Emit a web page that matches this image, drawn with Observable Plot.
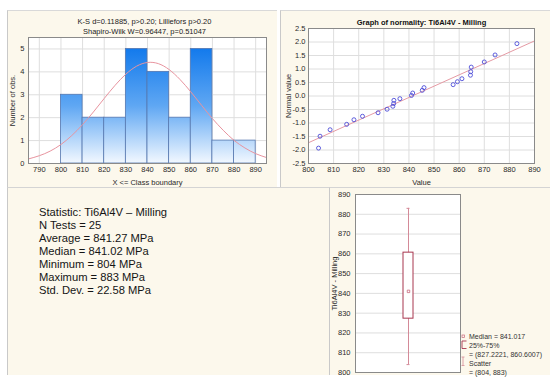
<!DOCTYPE html>
<html><head><meta charset="utf-8">
<script src="https://cdn.jsdelivr.net/npm/d3@7"></script>
<script src="https://cdn.jsdelivr.net/npm/@observablehq/plot@0.6"></script>
<style>
html,body{margin:0;padding:0;}
body{background:#fff;width:550px;height:386px;position:relative;overflow:hidden;font-family:"Liberation Sans",Arial,sans-serif;}
.panel{position:absolute;background:#fcf8ec;box-sizing:border-box;}
.abs{position:absolute;}
.abs svg{display:block;}
</style></head><body>
<div class="panel" style="left:7px;top:10px;width:270px;height:177px;border-left:1px solid #c9c9c9;border-top:1px solid #d9d9d9;"></div>
<div class="panel" style="left:280px;top:10px;width:270px;height:177px;border-left:1px solid #c9c9c9;border-top:1px solid #d9d9d9;"></div>
<div class="panel" style="left:7px;top:187px;width:322px;height:188px;border-left:1px solid #c9c9c9;border-top:1px solid #d4d4d4;"></div>
<div class="panel" style="left:329px;top:187px;width:221px;height:188px;border-left:1px solid #c9c9c9;border-top:1px solid #d4d4d4;"></div>
<div id="hist" class="abs" style="left:0;top:0;"></div>
<div id="norm" class="abs" style="left:276px;top:0;"></div>
<div id="stats" class="abs" style="left:39px;top:206px;font-size:11.2px;line-height:13px;color:#151515;white-space:pre;"></div>
<div id="box" class="abs" style="left:300px;top:180px;"></div>
<div id="legend" class="abs" style="left:459px;top:331px;width:91px;height:46px;"></div>
<script>
const FONT = '"Liberation Sans", Arial, sans-serif';

// ---- Histogram data ----
const binEdges = [800, 810, 820, 830, 840, 850, 860, 870, 880, 890];
const binCounts = [3, 2, 2, 5, 4, 2, 5, 1, 1];
const histTicksX = [790, 800, 810, 820, 830, 840, 850, 860, 870, 880, 890];
const histTicksY = [0, 1, 2, 3, 4, 5];
const curveX = [785, 790, 795, 800, 805, 810, 815, 820, 825, 830, 835, 840, 845, 850, 855, 860, 865, 870, 875, 880, 885, 890, 895];
const curveY = [0.20, 0.34, 0.54, 0.83, 1.22, 1.70, 2.25, 2.84, 3.41, 3.90, 4.25, 4.41, 4.36, 4.10, 3.67, 3.13, 2.54, 1.96, 1.45, 1.01, 0.68, 0.43, 0.26];
const histTitle1 = "K-S d=0.11885, p>0.20; Lilliefors p>0.20";
const histTitle2 = "Shapiro-Wilk W=0.96447, p=0.51047";

// ---- Normal probability plot data ----
const obsValues = [804.0, 804.6, 808.6, 815.2, 818.1, 821.5, 827.7, 831.3, 833.6, 833.9, 834.0, 836.4, 841.0, 841.5, 845.3, 846.0, 857.6, 859.3, 861.1, 864.5, 864.6, 864.8, 870.0, 874.3, 883.0];
const normalValues = [-1.93, -1.49, -1.25, -1.05, -0.88, -0.75, -0.62, -0.49, -0.38, -0.28, -0.16, -0.10, 0.02, 0.11, 0.21, 0.31, 0.42, 0.53, 0.64, 0.77, 0.90, 1.07, 1.26, 1.52, 1.94];
const fitX = [800, 890];
const fitY = [-1.73, 2.04];
const normTicksX = [800, 810, 820, 830, 840, 850, 860, 870, 880, 890];
const normTicksY = [-2.5, -2.0, -1.5, -1.0, -0.5, 0.0, 0.5, 1.0, 1.5, 2.0, 2.5];
const normTitle = "Graph of normality: Ti6Al4V - Milling";

// ---- Statistics text ----
const statLines = [
  "Statistic: Ti6Al4V \u2013 Milling",
  "N Tests = 25",
  "Average = 841.27 MPa",
  "Median = 841.02 MPa",
  "Minimum = 804 MPa",
  "Maximum = 883 MPa",
  "Std. Dev. = 22.58 MPa"
];

// ---- Box plot data ----
const boxName = ["Ti6Al4V - Milling"];
const boxMedian = [841.017];
const boxQ1 = [827.2221];
const boxQ3 = [860.6007];
const boxMin = [804];
const boxMax = [883];
const boxTicksY = [800, 810, 820, 830, 840, 850, 860, 870, 880, 890];
const legendLines = ["Median = 841.017", "25%-75%", "= (827.2221, 860.6007)", "Scatter", "= (804, 883)"];

const GRID = "#dedede";
const FRAME = "#8a8a8a";
const baseStyle = {background: "transparent", fontFamily: FONT, fontSize: "7.5px", color: "#2a2a2a", overflow: "visible"};

// ---------- Histogram ----------
const hist = binCounts.map((c, i) => ({x1: binEdges[i], x2: binEdges[i + 1], count: c}));
const curve = curveX.map((x, i) => ({x, y: curveY[i]}));
const histPlot = Plot.plot({
  width: 276, height: 190,
  marginLeft: 28, marginRight: 10, marginTop: 37, marginBottom: 27,
  style: baseStyle,
  x: {domain: [785, 895]},
  y: {domain: [0, 5.5]},
  marks: [
    Plot.frame({fill: "white", stroke: "none"}),
    Plot.gridX({ticks: histTicksX, stroke: GRID, strokeOpacity: 1}),
    Plot.gridY({ticks: histTicksY, stroke: GRID, strokeOpacity: 1}),
    Plot.rectY(hist, {x1: "x1", x2: "x2", y: "count", fill: "url(#histGrad)", stroke: "#5678b0", strokeWidth: 0.8}),
    Plot.line(curve, {x: "x", y: "y", stroke: "#e8949f", strokeWidth: 1, curve: "natural"}),
    Plot.frame({stroke: FRAME}),
    Plot.axisX({ticks: histTicksX, tickFormat: d => String(d), tickSize: 0, tickPadding: 3, label: "X <= Class boundary", labelAnchor: "center", labelOffset: 21, labelArrow: "none"}),
    Plot.axisY({ticks: histTicksY, tickFormat: d => String(d), tickSize: 0, tickPadding: 4, label: "Number of obs.", labelAnchor: "center", labelOffset: 19, labelArrow: "none"}),
    Plot.text([histTitle1], {text: d => d, frameAnchor: "top", dx: -3, dy: -19, fill: "#222"}),
    Plot.text([histTitle2], {text: d => d, frameAnchor: "top", dx: -3, dy: -9, fill: "#222"})
  ]
});
{
  const ys = histPlot.scale("y");
  const ns = "http://www.w3.org/2000/svg";
  const defs = document.createElementNS(ns, "defs");
  const g = document.createElementNS(ns, "linearGradient");
  g.setAttribute("id", "histGrad");
  g.setAttribute("gradientUnits", "userSpaceOnUse");
  g.setAttribute("x1", 0); g.setAttribute("x2", 0);
  g.setAttribute("y1", ys.apply(5)); g.setAttribute("y2", ys.apply(0));
  [[0, "#137aec"], [0.5, "#5fa7f3"], [1, "#f2f8ff"]].forEach(([o, c]) => {
    const s = document.createElementNS(ns, "stop");
    s.setAttribute("offset", o); s.setAttribute("stop-color", c);
    g.appendChild(s);
  });
  defs.appendChild(g);
  histPlot.insertBefore(defs, histPlot.firstChild);
}
document.getElementById("hist").appendChild(histPlot);

// ---------- Normality plot ----------
const pts = obsValues.map((v, i) => ({v, z: normalValues[i]}));
const fit = fitX.map((x, i) => ({x, y: fitY[i]}));
const normPlot = Plot.plot({
  width: 274, height: 190,
  marginLeft: 32, marginRight: 16, marginTop: 28, marginBottom: 27,
  style: baseStyle,
  x: {domain: [800, 890]},
  y: {domain: [-2.5, 2.5]},
  marks: [
    Plot.frame({fill: "white", stroke: "none"}),
    Plot.gridX({ticks: normTicksX, stroke: GRID, strokeOpacity: 1}),
    Plot.gridY({ticks: normTicksY, stroke: GRID, strokeOpacity: 1}),
    Plot.line(fit, {x: "x", y: "y", stroke: "#e59aa4", strokeWidth: 1}),
    Plot.dot(pts, {x: "v", y: "z", r: 2, stroke: "#4d4dd8", strokeWidth: 0.9, fill: "none"}),
    Plot.frame({stroke: FRAME}),
    Plot.axisX({ticks: normTicksX, tickFormat: d => String(d), tickSize: 0, tickPadding: 3, label: "Value", labelAnchor: "center", labelOffset: 21, labelArrow: "none"}),
    Plot.axisY({ticks: normTicksY, tickFormat: d => d.toFixed(1), tickSize: 0, tickPadding: 3, label: "Normal value", labelAnchor: "center", labelOffset: 23, labelArrow: "none"}),
    Plot.text([normTitle], {text: d => d, frameAnchor: "top", dy: -9, fontWeight: "bold", fill: "#111"})
  ]
});
document.getElementById("norm").appendChild(normPlot);

// ---------- Statistics text ----------
document.getElementById("stats").textContent = statLines.join("\n");

// ---------- Box plot ----------
const box = boxName.map((name, i) => ({name, med: boxMedian[i], q1: boxQ1[i], q3: boxQ3[i], lo: boxMin[i], hi: boxMax[i]}));
const boxPlot = Plot.plot({
  width: 250, height: 206,
  marginLeft: 55, marginRight: 90, marginTop: 14, marginBottom: 14,
  style: baseStyle,
  x: {type: "band", domain: boxName, padding: 0.826, axis: null},
  y: {domain: [800, 890]},
  marks: [
    Plot.frame({fill: "white", stroke: "none"}),
    Plot.gridY({ticks: boxTicksY, stroke: GRID, strokeOpacity: 1}),
    Plot.ruleX(box, {x: "name", y1: "lo", y2: "hi", stroke: "#d48a98", strokeWidth: 1}),
    Plot.tickY(box, {x: "name", y: "lo", stroke: "#d48a98", insetLeft: 3.5, insetRight: 3.5}),
    Plot.tickY(box, {x: "name", y: "hi", stroke: "#d48a98", insetLeft: 3.5, insetRight: 3.5}),
    Plot.barY(box, {x: "name", y1: "q1", y2: "q3", fill: "white", stroke: "#a8364f", strokeWidth: 1}),
    Plot.dot(box, {x: "name", y: "med", symbol: "square", r: 1.4, stroke: "#c8667a", strokeWidth: 0.8, fill: "none"}),
    Plot.frame({stroke: FRAME}),
    Plot.axisY({ticks: boxTicksY, tickFormat: d => String(d), tickSize: 0, tickPadding: 5, label: "Ti6Al4V - Milling", labelAnchor: "center", labelOffset: 24, labelArrow: "none"})
  ]
});
document.getElementById("box").appendChild(boxPlot);

// ---------- Box plot legend ----------
{
  const leg = document.getElementById("legend");
  const icons = `<svg width="10" height="46" style="position:absolute;left:0;top:0;overflow:visible">
    <rect x="3" y="4" width="2.4" height="2.4" fill="none" stroke="#c8667a" stroke-width="0.7"/>
    <path d="M7.5,10 H3 V17.5 H7.5" fill="none" stroke="#a8364f" stroke-width="0.9"/>
    <path d="M2.5,26 H5.5 M4,26 V34.5 M2.5,34.5 H5.5" fill="none" stroke="#d48a98" stroke-width="0.8"/>
  </svg>`;
  leg.innerHTML = icons;
  const txt = document.createElement("div");
  txt.style.cssText = "position:absolute;left:10px;top:0.5px;font-size:7px;line-height:9px;color:#333;white-space:pre;";
  txt.textContent = legendLines.join("\n");
  leg.appendChild(txt);
}
</script>
</body></html>
